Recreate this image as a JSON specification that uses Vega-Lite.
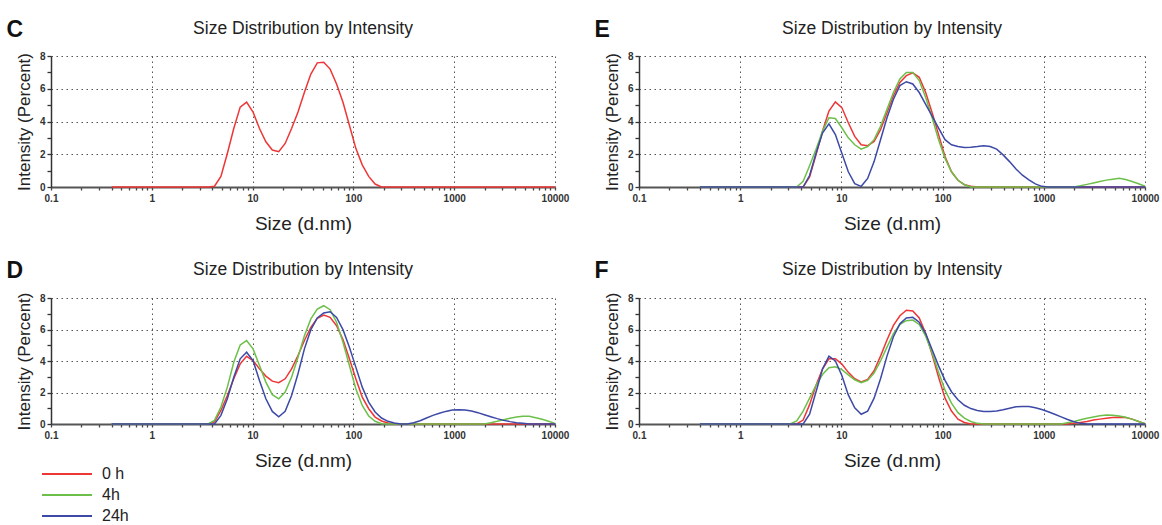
{
  "$schema": "https://vega.github.io/schema/vega-lite/v6.json",
  "background": "white",
  "padding": {"left": 6, "top": 18, "right": 2, "bottom": 0},
  "datasets": {
    "C": [
      {"time":"0 h","size":0.4,"pct":0},{"time":"0 h","size":3.615,"pct":0},{"time":"0 h","size":4.187,"pct":0.05},{"time":"0 h","size":4.849,"pct":0.65},{"time":"0 h","size":5.615,"pct":2.05},{"time":"0 h","size":6.503,"pct":3.57},{"time":"0 h","size":7.531,"pct":4.88},{"time":"0 h","size":8.721,"pct":5.18},{"time":"0 h","size":10.1,"pct":4.58},{"time":"0 h","size":11.7,"pct":3.57},{"time":"0 h","size":13.54,"pct":2.76},{"time":"0 h","size":15.69,"pct":2.26},{"time":"0 h","size":18.17,"pct":2.16},{"time":"0 h","size":21.04,"pct":2.66},{"time":"0 h","size":24.36,"pct":3.57},{"time":"0 h","size":28.21,"pct":4.58},{"time":"0 h","size":32.67,"pct":5.79},{"time":"0 h","size":37.84,"pct":6.9},{"time":"0 h","size":43.82,"pct":7.58},{"time":"0 h","size":50.75,"pct":7.62},{"time":"0 h","size":58.77,"pct":7.2},{"time":"0 h","size":68.06,"pct":6.29},{"time":"0 h","size":78.82,"pct":5.18},{"time":"0 h","size":91.28,"pct":3.77},{"time":"0 h","size":105.7,"pct":2.36},{"time":"0 h","size":122.4,"pct":1.35},{"time":"0 h","size":141.8,"pct":0.65},{"time":"0 h","size":164.2,"pct":0.18},{"time":"0 h","size":190.1,"pct":0},{"time":"0 h","size":10000,"pct":0}
    ],
    "D": [
      {"time":"0 h","size":0.4,"pct":0},{"time":"0 h","size":3.615,"pct":0},{"time":"0 h","size":4.187,"pct":0.13},{"time":"0 h","size":4.849,"pct":0.86},{"time":"0 h","size":5.615,"pct":1.81},{"time":"0 h","size":6.503,"pct":2.87},{"time":"0 h","size":7.531,"pct":3.82},{"time":"0 h","size":8.721,"pct":4.3},{"time":"0 h","size":10.1,"pct":4.03},{"time":"0 h","size":11.7,"pct":3.5},{"time":"0 h","size":13.54,"pct":3.04},{"time":"0 h","size":15.69,"pct":2.72},{"time":"0 h","size":18.17,"pct":2.62},{"time":"0 h","size":21.04,"pct":2.87},{"time":"0 h","size":24.36,"pct":3.5},{"time":"0 h","size":28.21,"pct":4.35},{"time":"0 h","size":32.67,"pct":5.3},{"time":"0 h","size":37.84,"pct":6.14},{"time":"0 h","size":43.82,"pct":6.71},{"time":"0 h","size":50.75,"pct":6.92},{"time":"0 h","size":58.77,"pct":6.77},{"time":"0 h","size":68.06,"pct":6.24},{"time":"0 h","size":78.82,"pct":5.36},{"time":"0 h","size":91.28,"pct":4.14},{"time":"0 h","size":105.7,"pct":2.87},{"time":"0 h","size":122.4,"pct":1.71},{"time":"0 h","size":141.8,"pct":0.97},{"time":"0 h","size":164.2,"pct":0.44},{"time":"0 h","size":190.1,"pct":0.19},{"time":"0 h","size":220.2,"pct":0.06},{"time":"0 h","size":255,"pct":0},{"time":"0 h","size":10000,"pct":0},
      {"time":"4h","size":0.4,"pct":0},{"time":"4h","size":3.615,"pct":0},{"time":"4h","size":4.187,"pct":0.23},{"time":"4h","size":4.849,"pct":1.08},{"time":"4h","size":5.615,"pct":2.34},{"time":"4h","size":6.503,"pct":3.92},{"time":"4h","size":7.531,"pct":5.02},{"time":"4h","size":8.721,"pct":5.3},{"time":"4h","size":10.1,"pct":4.77},{"time":"4h","size":11.7,"pct":3.71},{"time":"4h","size":13.54,"pct":2.66},{"time":"4h","size":15.69,"pct":1.86},{"time":"4h","size":18.17,"pct":1.6},{"time":"4h","size":21.04,"pct":2.03},{"time":"4h","size":24.36,"pct":2.97},{"time":"4h","size":28.21,"pct":4.24},{"time":"4h","size":32.67,"pct":5.61},{"time":"4h","size":37.84,"pct":6.67},{"time":"4h","size":43.82,"pct":7.3},{"time":"4h","size":50.75,"pct":7.51},{"time":"4h","size":58.77,"pct":7.26},{"time":"4h","size":68.06,"pct":6.46},{"time":"4h","size":78.82,"pct":5.19},{"time":"4h","size":91.28,"pct":3.71},{"time":"4h","size":105.7,"pct":2.24},{"time":"4h","size":122.4,"pct":1.18},{"time":"4h","size":141.8,"pct":0.51},{"time":"4h","size":164.2,"pct":0.17},{"time":"4h","size":190.1,"pct":0.02},{"time":"4h","size":220.2,"pct":0},{"time":"4h","size":1990,"pct":0},{"time":"4h","size":2305,"pct":0.08},{"time":"4h","size":2669,"pct":0.17},{"time":"4h","size":3091,"pct":0.27},{"time":"4h","size":3580,"pct":0.36},{"time":"4h","size":4145,"pct":0.44},{"time":"4h","size":4801,"pct":0.49},{"time":"4h","size":5560,"pct":0.49},{"time":"4h","size":6439,"pct":0.4},{"time":"4h","size":7456,"pct":0.3},{"time":"4h","size":8635,"pct":0.17},{"time":"4h","size":10000,"pct":0.04},
      {"time":"24h","size":0.4,"pct":0},{"time":"24h","size":4.187,"pct":0},{"time":"24h","size":4.849,"pct":0.55},{"time":"24h","size":5.615,"pct":1.6},{"time":"24h","size":6.503,"pct":2.97},{"time":"24h","size":7.531,"pct":4.14},{"time":"24h","size":8.721,"pct":4.56},{"time":"24h","size":10.1,"pct":4.03},{"time":"24h","size":11.7,"pct":2.76},{"time":"24h","size":13.54,"pct":1.6},{"time":"24h","size":15.69,"pct":0.8},{"time":"24h","size":18.17,"pct":0.46},{"time":"24h","size":21.04,"pct":0.8},{"time":"24h","size":24.36,"pct":1.81},{"time":"24h","size":28.21,"pct":3.19},{"time":"24h","size":32.67,"pct":4.77},{"time":"24h","size":37.84,"pct":5.99},{"time":"24h","size":43.82,"pct":6.73},{"time":"24h","size":50.75,"pct":7.05},{"time":"24h","size":58.77,"pct":7.13},{"time":"24h","size":68.06,"pct":6.77},{"time":"24h","size":78.82,"pct":5.99},{"time":"24h","size":91.28,"pct":4.87},{"time":"24h","size":105.7,"pct":3.61},{"time":"24h","size":122.4,"pct":2.34},{"time":"24h","size":141.8,"pct":1.39},{"time":"24h","size":164.2,"pct":0.76},{"time":"24h","size":190.1,"pct":0.38},{"time":"24h","size":220.2,"pct":0.17},{"time":"24h","size":255,"pct":0.06},{"time":"24h","size":295.3,"pct":0},{"time":"24h","size":342,"pct":0},{"time":"24h","size":396.1,"pct":0.08},{"time":"24h","size":458.7,"pct":0.21},{"time":"24h","size":531.2,"pct":0.38},{"time":"24h","size":615.1,"pct":0.55},{"time":"24h","size":712.4,"pct":0.68},{"time":"24h","size":825,"pct":0.8},{"time":"24h","size":955.4,"pct":0.89},{"time":"24h","size":1106,"pct":0.91},{"time":"24h","size":1281,"pct":0.89},{"time":"24h","size":1484,"pct":0.82},{"time":"24h","size":1718,"pct":0.72},{"time":"24h","size":1990,"pct":0.59},{"time":"24h","size":2305,"pct":0.46},{"time":"24h","size":2669,"pct":0.34},{"time":"24h","size":3091,"pct":0.23},{"time":"24h","size":3580,"pct":0.15},{"time":"24h","size":4145,"pct":0.08},{"time":"24h","size":4801,"pct":0.04},{"time":"24h","size":5560,"pct":0},{"time":"24h","size":10000,"pct":0}
    ],
    "E": [
      {"time":"0 h","size":0.4,"pct":0},{"time":"0 h","size":4.187,"pct":0},{"time":"0 h","size":4.849,"pct":0.62},{"time":"0 h","size":5.615,"pct":1.96},{"time":"0 h","size":6.503,"pct":3.4},{"time":"0 h","size":7.531,"pct":4.64},{"time":"0 h","size":8.721,"pct":5.2},{"time":"0 h","size":10.1,"pct":4.85},{"time":"0 h","size":11.7,"pct":3.92},{"time":"0 h","size":13.54,"pct":3.09},{"time":"0 h","size":15.69,"pct":2.58},{"time":"0 h","size":18.17,"pct":2.52},{"time":"0 h","size":21.04,"pct":2.78},{"time":"0 h","size":24.36,"pct":3.5},{"time":"0 h","size":28.21,"pct":4.54},{"time":"0 h","size":32.67,"pct":5.57},{"time":"0 h","size":37.84,"pct":6.39},{"time":"0 h","size":43.82,"pct":6.8},{"time":"0 h","size":50.75,"pct":6.97},{"time":"0 h","size":58.77,"pct":6.7},{"time":"0 h","size":68.06,"pct":5.77},{"time":"0 h","size":78.82,"pct":4.54},{"time":"0 h","size":91.28,"pct":3.2},{"time":"0 h","size":105.7,"pct":1.86},{"time":"0 h","size":122.4,"pct":0.93},{"time":"0 h","size":141.8,"pct":0.41},{"time":"0 h","size":164.2,"pct":0.14},{"time":"0 h","size":190.1,"pct":0.04},{"time":"0 h","size":220.2,"pct":0},{"time":"0 h","size":10000,"pct":0},
      {"time":"4h","size":0.4,"pct":0},{"time":"4h","size":3.615,"pct":0},{"time":"4h","size":4.187,"pct":0.35},{"time":"4h","size":4.849,"pct":1.3},{"time":"4h","size":5.615,"pct":2.3},{"time":"4h","size":6.503,"pct":3.4},{"time":"4h","size":7.531,"pct":4.23},{"time":"4h","size":8.721,"pct":4.18},{"time":"4h","size":10.1,"pct":3.62},{"time":"4h","size":11.7,"pct":3.0},{"time":"4h","size":13.54,"pct":2.58},{"time":"4h","size":15.69,"pct":2.31},{"time":"4h","size":18.17,"pct":2.47},{"time":"4h","size":21.04,"pct":2.89},{"time":"4h","size":24.36,"pct":3.71},{"time":"4h","size":28.21,"pct":4.74},{"time":"4h","size":32.67,"pct":5.77},{"time":"4h","size":37.84,"pct":6.6},{"time":"4h","size":43.82,"pct":7.0},{"time":"4h","size":50.75,"pct":7.0},{"time":"4h","size":58.77,"pct":6.5},{"time":"4h","size":68.06,"pct":5.46},{"time":"4h","size":78.82,"pct":4.23},{"time":"4h","size":91.28,"pct":2.89},{"time":"4h","size":105.7,"pct":1.75},{"time":"4h","size":122.4,"pct":0.93},{"time":"4h","size":141.8,"pct":0.41},{"time":"4h","size":164.2,"pct":0.14},{"time":"4h","size":190.1,"pct":0},{"time":"4h","size":1990,"pct":0},{"time":"4h","size":2305,"pct":0.07},{"time":"4h","size":2669,"pct":0.16},{"time":"4h","size":3091,"pct":0.25},{"time":"4h","size":3580,"pct":0.34},{"time":"4h","size":4145,"pct":0.42},{"time":"4h","size":4801,"pct":0.48},{"time":"4h","size":5560,"pct":0.54},{"time":"4h","size":6439,"pct":0.46},{"time":"4h","size":7456,"pct":0.34},{"time":"4h","size":8635,"pct":0.2},{"time":"4h","size":10000,"pct":0.05},
      {"time":"24h","size":0.4,"pct":0},{"time":"24h","size":4.187,"pct":0},{"time":"24h","size":4.849,"pct":0.7},{"time":"24h","size":5.615,"pct":2.06},{"time":"24h","size":6.503,"pct":3.3},{"time":"24h","size":7.531,"pct":3.86},{"time":"24h","size":8.721,"pct":3.2},{"time":"24h","size":10.1,"pct":2.06},{"time":"24h","size":11.7,"pct":0.93},{"time":"24h","size":13.54,"pct":0.2},{"time":"24h","size":15.69,"pct":0.04},{"time":"24h","size":18.17,"pct":0.52},{"time":"24h","size":21.04,"pct":1.55},{"time":"24h","size":24.36,"pct":2.89},{"time":"24h","size":28.21,"pct":4.23},{"time":"24h","size":32.67,"pct":5.36},{"time":"24h","size":37.84,"pct":6.19},{"time":"24h","size":43.82,"pct":6.43},{"time":"24h","size":50.75,"pct":6.29},{"time":"24h","size":58.77,"pct":5.77},{"time":"24h","size":68.06,"pct":5.05},{"time":"24h","size":78.82,"pct":4.33},{"time":"24h","size":91.28,"pct":3.6},{"time":"24h","size":105.7,"pct":2.89},{"time":"24h","size":122.4,"pct":2.58},{"time":"24h","size":141.8,"pct":2.47},{"time":"24h","size":164.2,"pct":2.41},{"time":"24h","size":190.1,"pct":2.43},{"time":"24h","size":220.2,"pct":2.47},{"time":"24h","size":255,"pct":2.52},{"time":"24h","size":295.3,"pct":2.47},{"time":"24h","size":342,"pct":2.31},{"time":"24h","size":396.1,"pct":1.96},{"time":"24h","size":458.7,"pct":1.55},{"time":"24h","size":531.2,"pct":1.1},{"time":"24h","size":615.1,"pct":0.72},{"time":"24h","size":712.4,"pct":0.43},{"time":"24h","size":825,"pct":0.19},{"time":"24h","size":955.4,"pct":0.04},{"time":"24h","size":1106,"pct":0},{"time":"24h","size":10000,"pct":0}
    ],
    "F": [
      {"time":"0 h","size":0.4,"pct":0},{"time":"0 h","size":3.615,"pct":0},{"time":"0 h","size":4.187,"pct":0.25},{"time":"0 h","size":4.849,"pct":1.23},{"time":"0 h","size":5.615,"pct":2.46},{"time":"0 h","size":6.503,"pct":3.49},{"time":"0 h","size":7.531,"pct":4.14},{"time":"0 h","size":8.721,"pct":4.14},{"time":"0 h","size":10.1,"pct":3.8},{"time":"0 h","size":11.7,"pct":3.28},{"time":"0 h","size":13.54,"pct":2.87},{"time":"0 h","size":15.69,"pct":2.67},{"time":"0 h","size":18.17,"pct":2.83},{"time":"0 h","size":21.04,"pct":3.38},{"time":"0 h","size":24.36,"pct":4.31},{"time":"0 h","size":28.21,"pct":5.33},{"time":"0 h","size":32.67,"pct":6.26},{"time":"0 h","size":37.84,"pct":6.87},{"time":"0 h","size":43.82,"pct":7.22},{"time":"0 h","size":50.75,"pct":7.18},{"time":"0 h","size":58.77,"pct":6.73},{"time":"0 h","size":68.06,"pct":5.74},{"time":"0 h","size":78.82,"pct":4.41},{"time":"0 h","size":91.28,"pct":2.97},{"time":"0 h","size":105.7,"pct":1.64},{"time":"0 h","size":122.4,"pct":0.82},{"time":"0 h","size":141.8,"pct":0.31},{"time":"0 h","size":164.2,"pct":0.1},{"time":"0 h","size":190.1,"pct":0},{"time":"0 h","size":1718,"pct":0},{"time":"0 h","size":1990,"pct":0.04},{"time":"0 h","size":2305,"pct":0.1},{"time":"0 h","size":2669,"pct":0.16},{"time":"0 h","size":3091,"pct":0.25},{"time":"0 h","size":3580,"pct":0.31},{"time":"0 h","size":4145,"pct":0.37},{"time":"0 h","size":4801,"pct":0.41},{"time":"0 h","size":5560,"pct":0.43},{"time":"0 h","size":6439,"pct":0.41},{"time":"0 h","size":7456,"pct":0.31},{"time":"0 h","size":8635,"pct":0.16},{"time":"0 h","size":10000,"pct":0.02},
      {"time":"4h","size":0.4,"pct":0},{"time":"4h","size":3.122,"pct":0},{"time":"4h","size":3.615,"pct":0.2},{"time":"4h","size":4.187,"pct":0.82},{"time":"4h","size":4.849,"pct":1.64},{"time":"4h","size":5.615,"pct":2.46},{"time":"4h","size":6.503,"pct":3.14},{"time":"4h","size":7.531,"pct":3.57},{"time":"4h","size":8.721,"pct":3.63},{"time":"4h","size":10.1,"pct":3.45},{"time":"4h","size":11.7,"pct":3.12},{"time":"4h","size":13.54,"pct":2.81},{"time":"4h","size":15.69,"pct":2.63},{"time":"4h","size":18.17,"pct":2.77},{"time":"4h","size":21.04,"pct":3.24},{"time":"4h","size":24.36,"pct":4.0},{"time":"4h","size":28.21,"pct":4.88},{"time":"4h","size":32.67,"pct":5.74},{"time":"4h","size":37.84,"pct":6.32},{"time":"4h","size":43.82,"pct":6.56},{"time":"4h","size":50.75,"pct":6.6},{"time":"4h","size":58.77,"pct":6.32},{"time":"4h","size":68.06,"pct":5.58},{"time":"4h","size":78.82,"pct":4.51},{"time":"4h","size":91.28,"pct":3.28},{"time":"4h","size":105.7,"pct":2.15},{"time":"4h","size":122.4,"pct":1.33},{"time":"4h","size":141.8,"pct":0.72},{"time":"4h","size":164.2,"pct":0.37},{"time":"4h","size":190.1,"pct":0.16},{"time":"4h","size":220.2,"pct":0.04},{"time":"4h","size":255,"pct":0},{"time":"4h","size":1484,"pct":0},{"time":"4h","size":1718,"pct":0.08},{"time":"4h","size":1990,"pct":0.16},{"time":"4h","size":2305,"pct":0.27},{"time":"4h","size":2669,"pct":0.37},{"time":"4h","size":3091,"pct":0.45},{"time":"4h","size":3580,"pct":0.53},{"time":"4h","size":4145,"pct":0.57},{"time":"4h","size":4801,"pct":0.55},{"time":"4h","size":5560,"pct":0.51},{"time":"4h","size":6439,"pct":0.43},{"time":"4h","size":7456,"pct":0.31},{"time":"4h","size":8635,"pct":0.16},{"time":"4h","size":10000,"pct":0.02},
      {"time":"24h","size":0.4,"pct":0},{"time":"24h","size":4.187,"pct":0},{"time":"24h","size":4.849,"pct":0.62},{"time":"24h","size":5.615,"pct":2.05},{"time":"24h","size":6.503,"pct":3.49},{"time":"24h","size":7.531,"pct":4.31},{"time":"24h","size":8.721,"pct":4.0},{"time":"24h","size":10.1,"pct":3.08},{"time":"24h","size":11.7,"pct":1.85},{"time":"24h","size":13.54,"pct":1.03},{"time":"24h","size":15.69,"pct":0.62},{"time":"24h","size":18.17,"pct":0.82},{"time":"24h","size":21.04,"pct":1.64},{"time":"24h","size":24.36,"pct":2.87},{"time":"24h","size":28.21,"pct":4.31},{"time":"24h","size":32.67,"pct":5.54},{"time":"24h","size":37.84,"pct":6.36},{"time":"24h","size":43.82,"pct":6.73},{"time":"24h","size":50.75,"pct":6.77},{"time":"24h","size":58.77,"pct":6.46},{"time":"24h","size":68.06,"pct":5.74},{"time":"24h","size":78.82,"pct":4.72},{"time":"24h","size":91.28,"pct":3.69},{"time":"24h","size":105.7,"pct":2.77},{"time":"24h","size":122.4,"pct":2.05},{"time":"24h","size":141.8,"pct":1.54},{"time":"24h","size":164.2,"pct":1.19},{"time":"24h","size":190.1,"pct":0.98},{"time":"24h","size":220.2,"pct":0.86},{"time":"24h","size":255,"pct":0.8},{"time":"24h","size":295.3,"pct":0.8},{"time":"24h","size":342,"pct":0.82},{"time":"24h","size":396.1,"pct":0.9},{"time":"24h","size":458.7,"pct":1.0},{"time":"24h","size":531.2,"pct":1.09},{"time":"24h","size":615.1,"pct":1.11},{"time":"24h","size":712.4,"pct":1.11},{"time":"24h","size":825,"pct":1.03},{"time":"24h","size":955.4,"pct":0.92},{"time":"24h","size":1106,"pct":0.78},{"time":"24h","size":1281,"pct":0.62},{"time":"24h","size":1484,"pct":0.45},{"time":"24h","size":1718,"pct":0.29},{"time":"24h","size":1990,"pct":0.14},{"time":"24h","size":2305,"pct":0.04},{"time":"24h","size":2669,"pct":0},{"time":"24h","size":10000,"pct":0}
    ]
  },
  "columns": 2,
  "spacing": {"row": 26, "column": 25},
  "concat": [
    {
      "title": {"text": "C", "anchor": "start", "frame": "bounds", "fontSize": 23, "fontWeight": "bold", "color": "#111", "offset": 0, "dy": 22, "dx": -9},
      "vconcat": [{
        "width": 504, "height": 131,
        "title": "Size Distribution by Intensity",
        "data": {"name": "C"},
        "mark": {"type": "line", "strokeWidth": 1.5},
        "encoding": {
          "x": {"field": "size", "type": "quantitative", "scale": {"type": "log", "domain": [0.1, 10000], "nice": false},
                "axis": {"values": [0.1,0.2,0.3,0.4,0.5,0.6,0.7,0.8,0.9,1,2,3,4,5,6,7,8,9,10,20,30,40,50,60,70,80,90,100,200,300,400,500,600,700,800,900,1000,2000,3000,4000,5000,6000,7000,8000,9000,10000],
                         "labelExpr": "indexof([0.1,1,10,100,1000,10000], datum.value) >= 0 ? format(datum.value, '~g') : ''",
                         "gridOpacity": {"condition": {"test": "indexof([0.1,1,10,100,1000,10000], datum.value) < 0", "value": 0}, "value": 1},
                         "title": "Size (d.nm)"}},
          "y": {"field": "pct", "type": "quantitative", "scale": {"domain": [0, 8], "nice": false},
                "axis": {"values": [0,1,2,3,4,5,6,7,8], "labelExpr": "datum.value % 2 == 0 ? datum.label : ''",
                         "gridOpacity": {"condition": {"test": "datum.value % 2 == 1 || datum.value == 0", "value": 0}, "value": 1},
                         "title": "Intensity (Percent)"}},
          "color": {"field": "time", "type": "nominal", "scale": {"domain": ["0 h", "4h", "24h"], "range": ["#ee3636", "#6cc04a", "#3c49a6"]}, "legend": {"title": null}}
        }
      }]
    },
    {
      "title": {"text": "E", "anchor": "start", "frame": "bounds", "fontSize": 23, "fontWeight": "bold", "color": "#111", "offset": 0, "dy": 22, "dx": -9},
      "vconcat": [{
        "width": 506, "height": 131,
        "title": "Size Distribution by Intensity",
        "data": {"name": "E"},
        "mark": {"type": "line", "strokeWidth": 1.5},
        "encoding": {
          "x": {"field": "size", "type": "quantitative", "scale": {"type": "log", "domain": [0.1, 10000], "nice": false},
                "axis": {"values": [0.1,0.2,0.3,0.4,0.5,0.6,0.7,0.8,0.9,1,2,3,4,5,6,7,8,9,10,20,30,40,50,60,70,80,90,100,200,300,400,500,600,700,800,900,1000,2000,3000,4000,5000,6000,7000,8000,9000,10000],
                         "labelExpr": "indexof([0.1,1,10,100,1000,10000], datum.value) >= 0 ? format(datum.value, '~g') : ''",
                         "gridOpacity": {"condition": {"test": "indexof([0.1,1,10,100,1000,10000], datum.value) < 0", "value": 0}, "value": 1},
                         "title": "Size (d.nm)"}},
          "y": {"field": "pct", "type": "quantitative", "scale": {"domain": [0, 8], "nice": false},
                "axis": {"values": [0,1,2,3,4,5,6,7,8], "labelExpr": "datum.value % 2 == 0 ? datum.label : ''",
                         "gridOpacity": {"condition": {"test": "datum.value % 2 == 1 || datum.value == 0", "value": 0}, "value": 1},
                         "title": "Intensity (Percent)"}},
          "color": {"field": "time", "type": "nominal", "scale": {"domain": ["0 h", "4h", "24h"], "range": ["#ee3636", "#6cc04a", "#3c49a6"]}, "legend": {"title": null}}
        }
      }]
    },
    {
      "title": {"text": "D", "anchor": "start", "frame": "bounds", "fontSize": 23, "fontWeight": "bold", "color": "#111", "offset": 0, "dy": 22, "dx": -9},
      "vconcat": [{
        "width": 504, "height": 126,
        "title": "Size Distribution by Intensity",
        "data": {"name": "D"},
        "mark": {"type": "line", "strokeWidth": 1.5},
        "encoding": {
          "x": {"field": "size", "type": "quantitative", "scale": {"type": "log", "domain": [0.1, 10000], "nice": false},
                "axis": {"values": [0.1,0.2,0.3,0.4,0.5,0.6,0.7,0.8,0.9,1,2,3,4,5,6,7,8,9,10,20,30,40,50,60,70,80,90,100,200,300,400,500,600,700,800,900,1000,2000,3000,4000,5000,6000,7000,8000,9000,10000],
                         "labelExpr": "indexof([0.1,1,10,100,1000,10000], datum.value) >= 0 ? format(datum.value, '~g') : ''",
                         "gridOpacity": {"condition": {"test": "indexof([0.1,1,10,100,1000,10000], datum.value) < 0", "value": 0}, "value": 1},
                         "title": "Size (d.nm)"}},
          "y": {"field": "pct", "type": "quantitative", "scale": {"domain": [0, 8], "nice": false},
                "axis": {"values": [0,1,2,3,4,5,6,7,8], "labelExpr": "datum.value % 2 == 0 ? datum.label : ''",
                         "gridOpacity": {"condition": {"test": "datum.value % 2 == 1 || datum.value == 0", "value": 0}, "value": 1},
                         "title": "Intensity (Percent)"}},
          "color": {"field": "time", "type": "nominal", "scale": {"domain": ["0 h", "4h", "24h"], "range": ["#ee3636", "#6cc04a", "#3c49a6"]}, "legend": {"title": null}}
        }
      }]
    },
    {
      "title": {"text": "F", "anchor": "start", "frame": "bounds", "fontSize": 23, "fontWeight": "bold", "color": "#111", "offset": 0, "dy": 22, "dx": -9},
      "vconcat": [{
        "width": 506, "height": 126,
        "title": "Size Distribution by Intensity",
        "data": {"name": "F"},
        "mark": {"type": "line", "strokeWidth": 1.5},
        "encoding": {
          "x": {"field": "size", "type": "quantitative", "scale": {"type": "log", "domain": [0.1, 10000], "nice": false},
                "axis": {"values": [0.1,0.2,0.3,0.4,0.5,0.6,0.7,0.8,0.9,1,2,3,4,5,6,7,8,9,10,20,30,40,50,60,70,80,90,100,200,300,400,500,600,700,800,900,1000,2000,3000,4000,5000,6000,7000,8000,9000,10000],
                         "labelExpr": "indexof([0.1,1,10,100,1000,10000], datum.value) >= 0 ? format(datum.value, '~g') : ''",
                         "gridOpacity": {"condition": {"test": "indexof([0.1,1,10,100,1000,10000], datum.value) < 0", "value": 0}, "value": 1},
                         "title": "Size (d.nm)"}},
          "y": {"field": "pct", "type": "quantitative", "scale": {"domain": [0, 8], "nice": false},
                "axis": {"values": [0,1,2,3,4,5,6,7,8], "labelExpr": "datum.value % 2 == 0 ? datum.label : ''",
                         "gridOpacity": {"condition": {"test": "datum.value % 2 == 1 || datum.value == 0", "value": 0}, "value": 1},
                         "title": "Intensity (Percent)"}},
          "color": {"field": "time", "type": "nominal", "scale": {"domain": ["0 h", "4h", "24h"], "range": ["#ee3636", "#6cc04a", "#3c49a6"]}, "legend": {"title": null}}
        }
      }]
    }
  ],
  "config": {
    "font": "Liberation Sans",
    "view": {"stroke": null},
    "title": {"fontSize": 17.5, "fontWeight": "normal", "color": "#222", "offset": 14},
    "axis": {"labelFont": "Liberation Sans", "titleFont": "Liberation Sans"},
    "axisX": {"domainColor": "#555", "domainWidth": 2, "tickColor": "#444", "tickSize": 3, "tickWidth": 1.3, "labelFontSize": 10, "labelFontWeight": "bold", "labelColor": "#333", "labelPadding": 3, "labelFlush": false, "labelOverlap": false, "grid": true, "gridColor": "#555", "gridDash": [1.5, 3.5], "gridWidth": 1, "titleFontSize": 19, "titleFontWeight": "normal", "titleColor": "#222", "titlePadding": 11},
    "axisY": {"domainColor": "#333", "domainWidth": 1.5, "tickColor": "#333", "tickSize": 4, "tickWidth": 1.3, "labelFontSize": 10, "labelFontWeight": "bold", "labelColor": "#333", "labelPadding": 2, "labelOverlap": false, "grid": true, "gridColor": "#555", "gridDash": [1.5, 3.5], "gridWidth": 1, "titleFontSize": 17, "titleFontWeight": "normal", "titleColor": "#222", "titlePadding": 6},
    "legend": {"orient": "bottom", "direction": "vertical", "symbolType": "M-2.5,0H2.5", "symbolSize": 400, "symbolStrokeWidth": 2, "labelFontSize": 16, "labelColor": "#222", "labelOffset": 24, "rowPadding": 2, "padding": 5, "offset": -12}
  }
}
